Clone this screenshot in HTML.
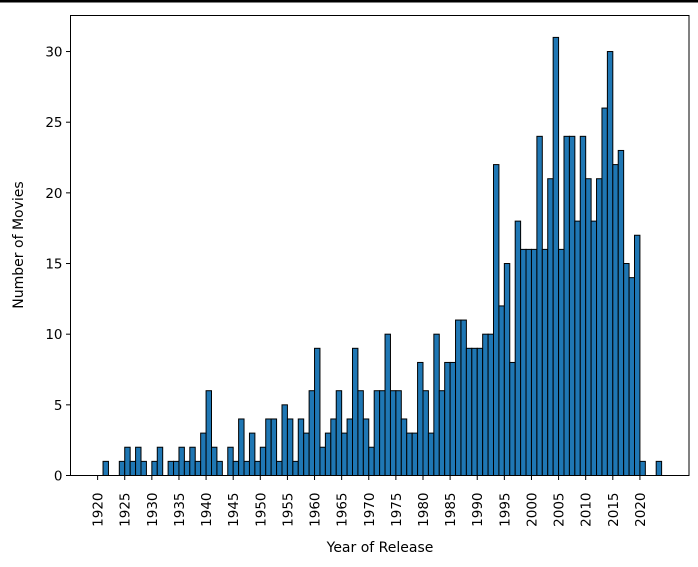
<!DOCTYPE html>
<html><head><meta charset="utf-8"><style>
html,body{margin:0;padding:0;background:#fff;}
svg{display:block;font-family:"DejaVu Sans","Liberation Sans",sans-serif;}
</style></head><body>
<svg id="chart" width="698" height="567" viewBox="0 0 698 567">
<rect x="0" y="0" width="698" height="2.5" fill="#000"/>
<g id="bars"></g>
<g id="xticks"></g>
<g id="yticks"></g>
<rect x="70.5" y="15.5" width="618.5" height="460" fill="none" stroke="#000" stroke-width="1"/>
<text x="380" y="552" font-size="14" text-anchor="middle">Year of Release</text>
<text transform="translate(23,245) rotate(-90)" font-size="14" text-anchor="middle">Number of Movies</text>
</svg>
<script>
const binStart = 1921;
const binWidth = 1;
const counts = [1,0,0,1,2,1,2,1,0,1,2,0,1,1,2,1,2,1,3,6,2,1,0,2,1,4,1,3,1,2,4,4,1,5,4,1,4,3,6,9,2,3,4,6,3,4,9,6,4,2,6,6,10,6,6,4,3,3,8,6,3,10,6,8,8,11,11,9,9,9,10,10,22,12,15,8,18,16,16,16,24,16,21,31,16,24,24,18,24,21,18,21,26,30,22,23,15,14,17,1,0,0,1];
const xTicks = [1920,1925,1930,1935,1940,1945,1950,1955,1960,1965,1970,1975,1980,1985,1990,1995,2000,2005,2010,2015,2020];
const yTicks = [0,5,10,15,20,25,30];

const X0=70.5,X1=689,Y0=475.5,Y1=15.5;
const xmin=1915,xmax=2029.05,ymin=0,ymax=32.55;
const xs=v=>X0+(v-xmin)/(xmax-xmin)*(X1-X0);
const ys=v=>Y0-(v-ymin)/(ymax-ymin)*(Y0-Y1);
const NS="http://www.w3.org/2000/svg";
const bars=document.getElementById('bars');
counts.forEach((c,i)=>{
  if(c<=0) return;
  const a=binStart+i*binWidth,b=a+binWidth;
  const r=document.createElementNS(NS,'rect');
  r.setAttribute('x',xs(a));r.setAttribute('width',xs(b)-xs(a));
  r.setAttribute('y',ys(c));r.setAttribute('height',ys(0)-ys(c));
  r.setAttribute('fill','#1f77b4');r.setAttribute('stroke','#000');r.setAttribute('stroke-width','1');
  
  
  bars.appendChild(r);
});
const xg=document.getElementById('xticks');
xTicks.forEach(t=>{
  const x=xs(t);
  const l=document.createElementNS(NS,'line');
  l.setAttribute('x1',x);l.setAttribute('x2',x);l.setAttribute('y1',Y0);l.setAttribute('y2',Y0+4.5);
  l.setAttribute('stroke','#000');
  
  
  xg.appendChild(l);
  const tx=document.createElementNS(NS,'text');
  tx.setAttribute('transform','translate('+(x+5)+','+(Y0+17)+') rotate(-90)');
  tx.setAttribute('font-size','13.5');tx.setAttribute('text-anchor','end');
  tx.textContent=t;
  
  
  xg.appendChild(tx);
});
const yg=document.getElementById('yticks');
yTicks.forEach(t=>{
  const y=ys(t);
  const l=document.createElementNS(NS,'line');
  l.setAttribute('x1',X0-4.5);l.setAttribute('x2',X0);l.setAttribute('y1',y);l.setAttribute('y2',y);
  l.setAttribute('stroke','#000');
  
  
  yg.appendChild(l);
  const tx=document.createElementNS(NS,'text');
  tx.setAttribute('x',X0-8);tx.setAttribute('y',y+5);
  tx.setAttribute('font-size','13.5');tx.setAttribute('text-anchor','end');
  tx.textContent=t;
  
  
  yg.appendChild(tx);
});
</script>
</body></html>
